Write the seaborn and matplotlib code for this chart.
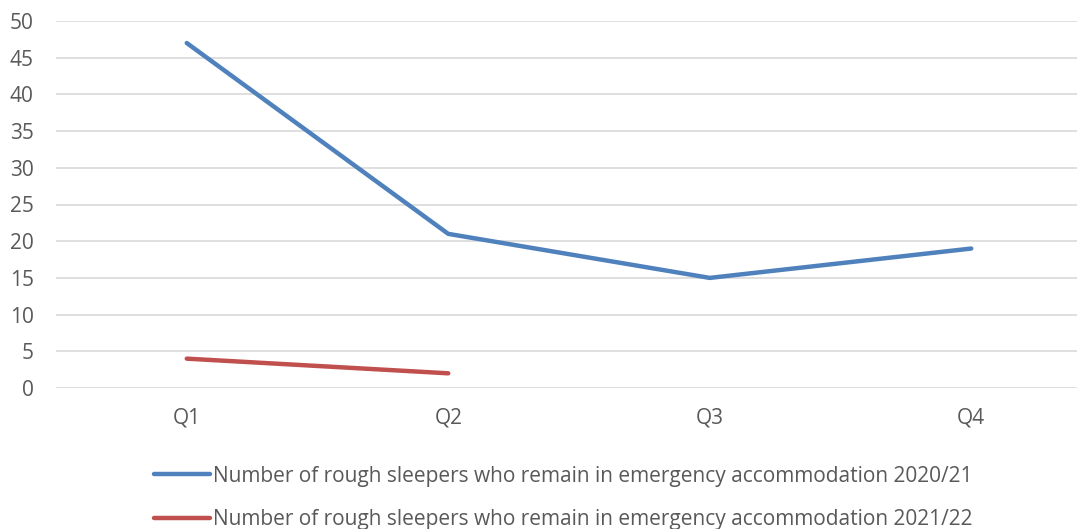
import matplotlib
matplotlib.use("Agg")
import matplotlib.pyplot as plt
import seaborn as sns
import pandas as pd
from matplotlib.lines import Line2D

quarters = ["Q1", "Q2", "Q3", "Q4"]
series_2021 = [47, 21, 15, 19]
quarters_2122 = ["Q1", "Q2"]
series_2122 = [4, 2]
label_2021 = "Number of rough sleepers who remain in emergency accommodation 2020/21"
label_2122 = "Number of rough sleepers who remain in emergency accommodation 2021/22"

df = pd.concat([
    pd.DataFrame({"Quarter": quarters, "Value": series_2021, "Series": label_2021}),
    pd.DataFrame({"Quarter": quarters_2122, "Value": series_2122, "Series": label_2122}),
], ignore_index=True)
df["Quarter"] = pd.Categorical(df["Quarter"], categories=quarters, ordered=True)
df["x"] = df["Quarter"].cat.codes

sns.set_theme(style="white")
plt.rcParams["font.family"] = ["Open Sans", "DejaVu Sans"]

fig = plt.figure(figsize=(10.77, 5.29), dpi=100)
ax = fig.add_axes([56 / 1077, 1 - 388 / 529, 1046 / 1077, 367 / 529])

sns.lineplot(data=df, x="x", y="Value", hue="Series", sort=False,
             palette={label_2021: "#4F81BD", label_2122: "#C0504D"},
             linewidth=3.2, ax=ax, legend=False)
for ln in ax.get_lines():
    ln.set_solid_capstyle("round")

ax.set_xlim(-0.5, 3.5)
ax.set_ylim(0, 50)
ax.set_yticks(range(0, 51, 5))
ax.set_xticks(range(len(quarters)))
ax.set_xticklabels(quarters)
ax.set_xlabel("")
ax.set_ylabel("")
ax.grid(axis="y", color="#d9d9d9", linewidth=1.2)
ax.set_axisbelow(True)
for s in ax.spines.values():
    s.set_visible(False)
ax.tick_params(axis="both", length=0, labelsize=15, colors="#595959")
ax.tick_params(axis="y", pad=16)
ax.tick_params(axis="x", pad=14)

handles = [Line2D([0], [0], color="#4F81BD", lw=3.2, solid_capstyle="round"),
           Line2D([0], [0], color="#C0504D", lw=3.2, solid_capstyle="round")]
leg = fig.legend(handles, [label_2021, label_2122], loc="center",
                 bbox_to_anchor=(563 / 1077, 1 - 498 / 529), ncol=1,
                 frameon=False, fontsize=15, handlelength=2.7, handletextpad=0.15,
                 labelspacing=1.1, labelcolor="#595959", borderpad=0)

fig.savefig("out.png", dpi=100)
